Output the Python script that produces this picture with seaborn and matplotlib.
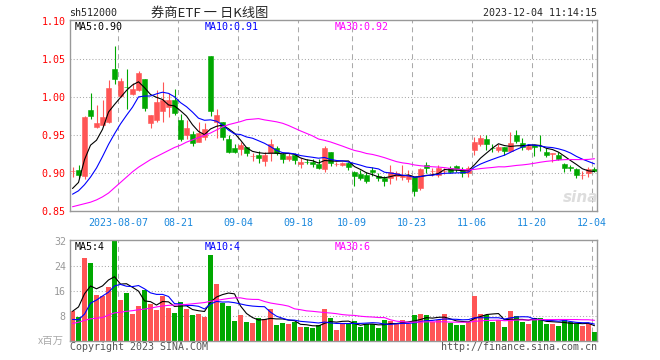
import numpy as np
import pandas as pd
import matplotlib
matplotlib.use("Agg")
import matplotlib.pyplot as plt
import seaborn as sns

# ---------------- data ----------------
open_ = [0.9030, 0.9044, 0.8960, 0.9833, 0.9605, 0.9636, 0.9680, 1.0373, 1.0018, 1.0135,
         1.0044, 1.0096, 1.0237, 0.9662, 0.9702, 0.9825, 0.9877, 0.9965, 0.9702, 0.9504,
         0.9518, 0.9417, 0.9482, 1.0544, 0.9680, 0.9680, 0.9452, 0.9338, 0.9320, 0.9342,
         0.9225, 0.9241, 0.9167, 0.9272, 0.9338, 0.9250, 0.9193, 0.9241, 0.9118, 0.9155,
         0.9153, 0.9118, 0.9053, 0.9285, 0.9121, 0.9114, 0.9140, 0.9022, 0.8991, 0.8978,
         0.9044, 0.8965, 0.8943, 0.8934, 0.8965, 0.8948, 0.8921, 0.8948, 0.8811, 0.9110,
         0.9028, 0.8978, 0.9031, 0.9066, 0.9096, 0.9044, 0.9000, 0.9307, 0.9386, 0.9447,
         0.9331, 0.9307, 0.9342, 0.9298, 0.9500, 0.9404, 0.9316, 0.9373, 0.9360, 0.9285,
         0.9259, 0.9241, 0.9123, 0.9079, 0.9053, 0.8976, 0.9000, 0.9053]
high = [0.9088, 0.9110, 0.9750, 1.0053, 0.9900, 0.9965, 1.0228, 1.0675, 1.0250, 1.0370,
        1.0193, 1.0340, 1.0237, 0.9768, 1.0096, 1.0206, 1.0053, 1.0105, 0.9780, 0.9702,
        0.9561, 0.9680, 0.9662, 1.0544, 0.9847, 0.9680, 0.9500, 0.9386, 0.9417, 0.9342,
        0.9272, 0.9294, 0.9285, 0.9452, 0.9360, 0.9272, 0.9263, 0.9272, 0.9197, 0.9184,
        0.9184, 0.9184, 0.9360, 0.9285, 0.9154, 0.9154, 0.9154, 0.9035, 0.9044, 0.9022,
        0.9088, 0.9000, 0.8965, 0.9110, 0.9035, 0.9110, 0.9044, 0.8956, 0.9066, 0.9154,
        0.9066, 0.9110, 0.9075, 0.9096, 0.9110, 0.9088, 0.9096, 0.9474, 0.9500, 0.9500,
        0.9386, 0.9386, 0.9342, 0.9548, 0.9570, 0.9460, 0.9373, 0.9373, 0.9500, 0.9328,
        0.9263, 0.9285, 0.9140, 0.9110, 0.9066, 0.9035, 0.9080, 0.9080]
low = [0.8956, 0.8934, 0.8930, 0.9710, 0.9592, 0.9620, 0.9667, 1.0171, 1.0009, 0.9842,
       1.0030, 1.0088, 0.9825, 0.9592, 0.9680, 0.9680, 0.9746, 0.9768, 0.9425, 0.9456,
       0.9355, 0.9408, 0.9439, 0.9754, 0.9460, 0.9439, 0.9263, 0.9263, 0.9246, 0.9228,
       0.9167, 0.9141, 0.9096, 0.9167, 0.9241, 0.9132, 0.9158, 0.9118, 0.9066, 0.9118,
       0.9088, 0.9053, 0.9022, 0.9096, 0.9096, 0.9096, 0.9044, 0.8833, 0.8912, 0.8877,
       0.8965, 0.8904, 0.8833, 0.8860, 0.8912, 0.8912, 0.8890, 0.8702, 0.8781, 0.9000,
       0.8960, 0.8956, 0.8991, 0.9000, 0.9022, 0.8956, 0.8956, 0.9241, 0.9360, 0.9307,
       0.9285, 0.9285, 0.9241, 0.9298, 0.9395, 0.9307, 0.9307, 0.9228, 0.9298, 0.9220,
       0.9154, 0.9175, 0.9022, 0.9035, 0.8934, 0.8921, 0.8956, 0.9022]
close = [0.9032, 0.8978, 0.9746, 0.9754, 0.9667, 0.9746, 1.0118, 1.0241, 1.0219, 1.0130,
         1.0105, 1.0325, 0.9855, 0.9768, 0.9943, 0.9965, 0.9965, 0.9790, 0.9452, 0.9592,
         0.9395, 0.9526, 0.9579, 0.9825, 0.9768, 0.9474, 0.9285, 0.9285, 0.9373, 0.9272,
         0.9228, 0.9197, 0.9241, 0.9386, 0.9272, 0.9184, 0.9228, 0.9175, 0.9153, 0.9150,
         0.9123, 0.9075, 0.9338, 0.9132, 0.9124, 0.9140, 0.9079, 0.8965, 0.8943, 0.8904,
         0.9018, 0.8934, 0.8904, 0.9022, 0.9009, 0.8978, 0.8978, 0.8772, 0.9053, 0.9066,
         0.9031, 0.9066, 0.9035, 0.9022, 0.9053, 0.9000, 0.9066, 0.9417, 0.9461, 0.9386,
         0.9328, 0.9351, 0.9298, 0.9404, 0.9425, 0.9342, 0.9360, 0.9342, 0.9357, 0.9241,
         0.9263, 0.9189, 0.9075, 0.9075, 0.8978, 0.8978, 0.9053, 0.9035]
volume = [9.6, 7.6, 26.6, 24.7, 14.5, 14.2, 17.1, 31.8, 12.9, 15.1,
          8.5, 11.0, 16.1, 11.7, 9.7, 14.2, 10.4, 8.8, 12.3, 10.1,
          8.2, 8.5, 7.6, 27.5, 18.0, 12.1, 11.0, 6.3, 8.2, 5.9,
          5.6, 7.1, 7.0, 10.1, 5.0, 5.6, 5.3, 6.0, 4.3, 4.3,
          4.0, 5.0, 10.1, 7.2, 3.4, 5.3, 5.3, 6.25, 4.45, 5.3,
          5.3, 4.0, 6.6, 6.25, 5.3, 6.6, 5.3, 8.2, 8.5, 8.2,
          5.9, 6.6, 8.5, 5.6, 5.0, 5.0, 5.9, 14.2, 8.5, 8.2,
          5.9, 6.6, 4.3, 9.4, 7.8, 5.9, 5.3, 7.2, 7.2, 5.3,
          5.3, 4.7, 6.6, 5.9, 5.3, 4.7, 5.3, 2.75]

# moving-average values at the start of the window (history before the window)
ma5_head = [0.880, 0.888, 0.918, 0.937]
ma10_head = [0.8725, 0.877, 0.885, 0.895, 0.907, 0.922, 0.938, 0.952, 0.965]
ma30_head = [0.856, 0.858, 0.860, 0.862, 0.865, 0.869, 0.874, 0.881, 0.888, 0.895,
             0.902, 0.908, 0.913, 0.918, 0.922, 0.926, 0.930, 0.934, 0.937, 0.941,
             0.944, 0.947, 0.950, 0.953, 0.957, 0.961, 0.964, 0.966, 0.968]
vma5_head = [9.4, 10.8, 15.0, 17.5]
vma10_head = [6.8, 6.7, 8.5, 12.0, 13.0, 14.3, 15.5, 17.5, 18.0]
vma30_head = [5.5, 5.9, 6.5, 7.0, 7.2, 7.4, 8.2, 8.9, 9.1, 9.4,
              9.6, 9.9, 10.1, 10.4, 10.8, 11.1, 11.3, 11.4, 11.5, 11.6,
              11.8, 12.0, 12.2, 12.6, 12.9, 13.2, 13.5, 13.7, 13.7]

tick_index = [8, 18, 28, 38, 47, 57, 67, 77, 87]
tick_labels = ["2023-08-07", "08-21", "09-04", "09-18", "10-09",
               "10-23", "11-06", "11-20", "12-04"]
price_ticks = [0.85, 0.90, 0.95, 1.00, 1.05, 1.10]
vol_ticks = [8, 16, 24, 32]

# ---------------- style ----------------
sns.set_style("white")
plt.rcParams["font.family"] = ["DejaVu Sans Mono", "Noto Sans CJK SC"]
MONO = "DejaVu Sans Mono"
CJK = ["Noto Sans CJK SC", "DejaVu Sans"]
RED = "#ff5555"
GREEN = "#00a800"
GRID = "#aaaaaa"
SPINE = "#999999"
FS = 7.2

W, H = 660, 360


def fx(x):
    return x / W


def fy(y):
    return 1 - y / H


def moving(values, n, head):
    r = pd.Series(values, dtype=float).rolling(n).mean().to_numpy()
    r[: n - 1] = head
    return r


x = np.arange(len(close))
o = np.array(open_)
c = np.array(close)
hi = np.array(high)
lo = np.array(low)
vol = np.array(volume)
colors = np.where(c >= o, RED, GREEN)

ma5 = moving(c, 5, ma5_head)
ma10 = moving(c, 10, ma10_head)
ma30 = moving(c, 30, ma30_head)
vma5 = moving(vol, 5, vma5_head)
vma10 = moving(vol, 10, vma10_head)
vma30 = moving(vol, 30, vma30_head)

fig = plt.figure(figsize=(W / 100, H / 100), dpi=100)
ax = fig.add_axes([fx(70), fy(211.3), fx(527), 191.3 / H])
axv = fig.add_axes([fx(70), fy(340.7), fx(527), 100.7 / H])

xlim = (-0.42, 87.42)
tick_pos = [t - 0.37 for t in tick_index]

for a in (ax, axv):
    a.set_xlim(*xlim)
    for s in a.spines.values():
        s.set_color(SPINE)
        s.set_linewidth(1.0)
        s.set_visible(True)
    for t in tick_pos:
        a.axvline(t, color=GRID, lw=0.75, ls=(0, (4.8, 3.8)), zorder=0)
    a.set_facecolor("white")

# ---- candles ----
ax.vlines(x, lo, hi, colors=colors, lw=0.8, zorder=2)
body_bottom = np.minimum(o, c)
body_h = np.maximum(np.abs(c - o), 0.0004)
ax.bar(x, body_h, bottom=body_bottom, width=0.72, color=colors,
       edgecolor=colors, linewidth=0.4, zorder=3)

sns.lineplot(x=x, y=ma5, ax=ax, color="black", lw=0.8, legend=False, zorder=4)
sns.lineplot(x=x, y=ma10, ax=ax, color="#0000ff", lw=0.8, legend=False, zorder=4)
sns.lineplot(x=x, y=ma30, ax=ax, color="#ff00ff", lw=0.8, legend=False, zorder=4)

ax.set_ylim(0.85, 1.1017)
for p in price_ticks[1:-1]:
    ax.axhline(p, color=GRID, lw=0.75, ls=(0, (1.0, 2.0)), zorder=0)
ax.set_yticks(price_ticks)
ax.set_yticklabels([f"{p:.2f}" for p in price_ticks])
ax.set_xticks(tick_pos)
ax.set_xticklabels(tick_labels)
ax.tick_params(axis="y", length=0, pad=3, labelcolor="#ff0000", labelsize=FS)
ax.tick_params(axis="x", length=0, pad=4.5, labelcolor="#1a88dd", labelsize=FS)
ax.set_xlabel("")
ax.set_ylabel("")

# ---- volume ----
axv.bar(x, vol, width=0.83, color=colors, linewidth=0, zorder=2)
sns.lineplot(x=x, y=vma5, ax=axv, color="black", lw=0.8, legend=False, zorder=4)
sns.lineplot(x=x, y=vma10, ax=axv, color="#0000ff", lw=0.8, legend=False, zorder=4)
sns.lineplot(x=x, y=vma30, ax=axv, color="#ff00ff", lw=0.8, legend=False, zorder=4)
axv.set_ylim(0, 32.2)
for v in vol_ticks[:-1]:
    axv.axhline(v, color=GRID, lw=0.75, ls=(0, (1.0, 2.0)), zorder=0)
axv.set_yticks(vol_ticks)
axv.set_yticklabels([str(v) for v in vol_ticks])
axv.set_xticks([])
axv.tick_params(axis="y", length=0, pad=3, labelcolor="#999999", labelsize=FS)
axv.set_xlabel("")
axv.set_ylabel("")

# ---- texts ----
fig.text(fx(69), fy(13), "sh512000", ha="left", va="center", fontsize=FS, family=MONO)
fig.text(fx(209.5), fy(13), "券商ETF 一 日K线图", ha="center", va="center",
         fontsize=9.5, family=CJK)
fig.text(fx(597), fy(13), "2023-12-04 11:14:15", ha="right", va="center",
         fontsize=FS, family=MONO)

for (xx, yy, txt, col) in [(75, 26.5, "MA5:0.90", "black"),
                           (205, 26.5, "MA10:0.91", "#0000ff"),
                           (334.5, 26.5, "MA30:0.92", "#ff00ff"),
                           (75, 247, "MA5:4", "black"),
                           (205, 247, "MA10:4", "#0000ff"),
                           (334.5, 247, "MA30:6", "#ff00ff")]:
    fig.text(fx(xx), fy(yy), txt, ha="left", va="center", fontsize=FS,
             family=MONO, color=col)

fig.text(fx(64), fy(341), "x百万", ha="right", va="center", fontsize=7.5,
         family=CJK, color="#aaaaaa")
fig.text(fx(70), fy(346.5), "Copyright 2023 SINA.COM", ha="left", va="center",
         fontsize=FS, family=MONO, color="#555555")
fig.text(fx(597), fy(346.5), "http://finance.sina.com.cn", ha="right", va="center",
         fontsize=FS, family=MONO, color="#555555")
fig.text(fx(581), fy(197), "sina", ha="center", va="center", fontsize=11,
         family="DejaVu Sans", style="italic", weight="bold", color="#dddddd",
         zorder=1)

fig.savefig("out.png", dpi=100)
